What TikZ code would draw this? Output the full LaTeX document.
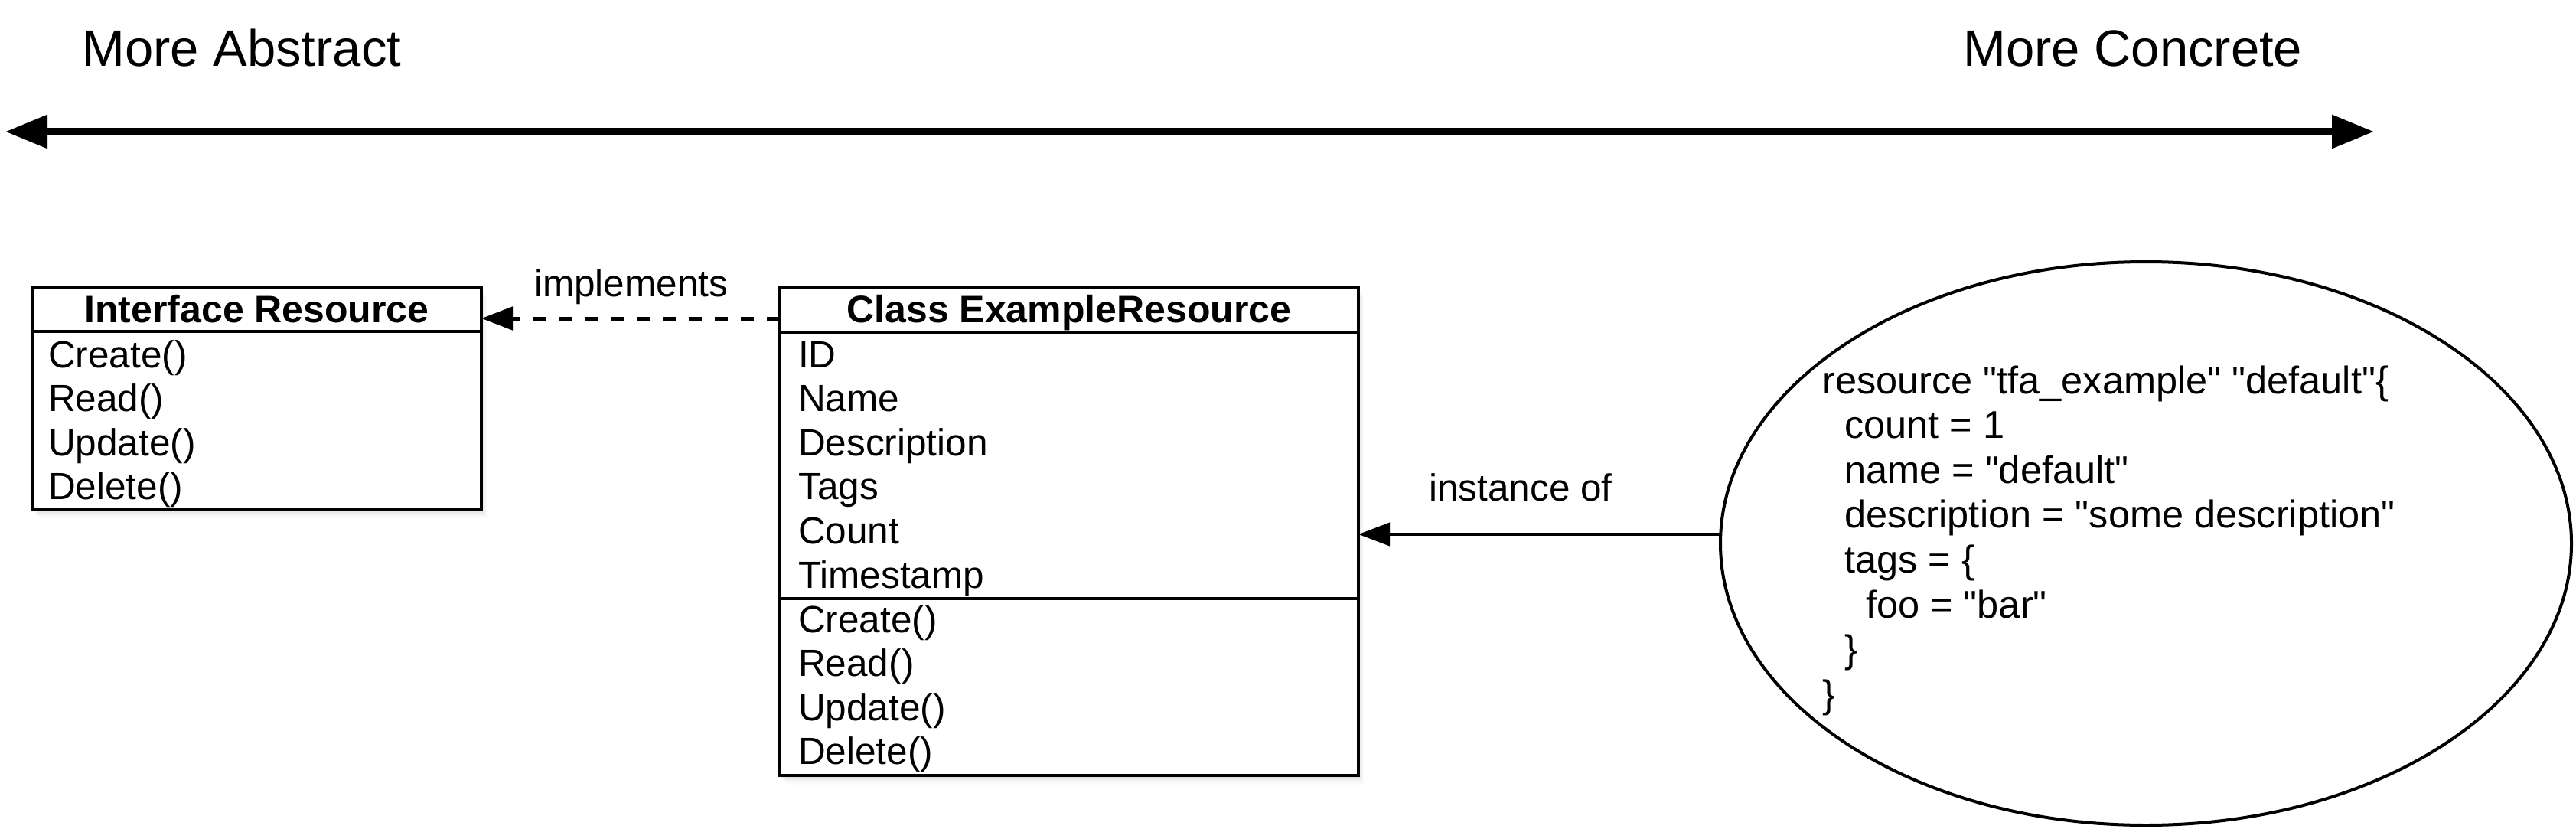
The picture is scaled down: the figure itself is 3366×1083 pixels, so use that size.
\documentclass[tikz,border=0pt]{standalone}
\usepackage{fontspec}
\setmainfont{Liberation Sans}
\newfontfamily\lsans{Liberation Sans}
\usetikzlibrary{arrows.meta,shapes.geometric,shadows}
\begin{document}
\begin{tikzpicture}[x=1pt,y=-1pt,
  umlbox/.style={draw,line width=4pt,fill=white,rectangle,anchor=north west,inner sep=0pt,outer sep=0pt,
    drop shadow={shadow xshift=2pt,shadow yshift=-3pt,opacity=0.14},
    drop shadow={shadow xshift=4pt,shadow yshift=-6pt,opacity=0.09},
    drop shadow={shadow xshift=6pt,shadow yshift=-9pt,opacity=0.05},
    drop shadow={shadow xshift=7pt,shadow yshift=-12pt,opacity=0.03}},
  item/.style={anchor=base west,inner sep=0pt,font=\lsans\fontsize{49.5}{50}\selectfont},
  code/.style={anchor=base west,inner sep=0pt,font=\lsans\fontsize{50.5}{52}\selectfont},
  head/.style={anchor=base,inner sep=0pt,font=\lsans\fontsize{50}{52}\selectfont\bfseries},
  title/.style={anchor=base west,inner sep=0pt,font=\lsans\fontsize{67}{70}\selectfont},
  sepline/.style={line width=4pt},
  bigtip/.style={line width=9pt,{Triangle[length=55pt,width=42pt]}-{Triangle[length=55pt,width=42pt]}},
  reltip/.style={-{Triangle[length=41pt,width=30pt]}},
]
\useasboundingbox (0,0) rectangle (3366,1083);

% axis
\node[title] (abs) at (107,87) {More Abstract};
\node[title] (con) at (2565,87) {More Concrete};
\coordinate (la) at (7,172);
\coordinate (ra) at (3102,172);
\draw[bigtip] (la) -- (ra);

% interface box
\node[umlbox,minimum width=587pt,minimum height=290pt] (ifc) at (42,375) {};
\draw[sepline] ([yshift=-58pt]ifc.north west) -- ([yshift=-58pt]ifc.north east);
\node[head] (ifct) at (335.5,421) {Interface Resource};
\node[item] (i1) at (63,480) {Create()};
\node[item] (i2) at (63,537.6) {Read()};
\node[item] (i3) at (63,595.2) {Update()};
\node[item] (i4) at (63,652.8) {Delete()};

% class box
\node[umlbox,minimum width=756pt,minimum height=638pt] (cls) at (1019,375) {};
\draw[sepline] ([yshift=-59pt]cls.north west) -- ([yshift=-59pt]cls.north east);
\draw[sepline] ([yshift=-407pt]cls.north west) -- ([yshift=-407pt]cls.north east);
\node[head] (clst) at (1397,421) {Class ExampleResource};
\node[item] (c1) at (1043,480) {ID};
\node[item] (c2) at (1043,537.6) {Name};
\node[item] (c3) at (1043,595.2) {Description};
\node[item] (c4) at (1043,652.8) {Tags};
\node[item] (c5) at (1043,710.4) {Count};
\node[item] (c6) at (1043,768) {Timestamp};
\node[item] (c7) at (1043,826) {Create()};
\node[item] (c8) at (1043,883.6) {Read()};
\node[item] (c9) at (1043,941.2) {Update()};
\node[item] (c10) at (1043,998.8) {Delete()};

% implements
\coordinate (dstart) at ([yshift=-41pt]cls.north west);
\draw[line width=5pt,dash pattern=on 17pt off 17pt,reltip] (dstart) -- (dstart -| ifc.east);
\node[item] (impl) at (698,387) {implements};

% ellipse
\node[ellipse,draw,line width=4pt,fill=white,minimum width=1112pt,minimum height=736pt,inner sep=0pt,outer sep=0pt] (ell) at (2804,710) {};
\node[code] (e1) at (2381,514) {resource "tfa\_example" "default"\{};
\node[code] (e2) at (2410,572.6) {count = 1};
\node[code] (e3) at (2410,631.2) {name = "default"};
\node[code] (e4) at (2410,689.8) {description = "some description"};
\node[code] (e5) at (2410,748.4) {tags = \{};
\node[code] (e6) at (2438,807) {foo = "bar"};
\node[code] (e7) at (2410,865.6) {\}};
\node[code] (e8) at (2381,924.2) {\}};

% instance of
\coordinate (io) at ([yshift=12pt]ell.west);
\draw[line width=4pt,reltip] (io) -- (io -| cls.east);
\node[item] (inst) at (1867,654) {instance of};
\end{tikzpicture}
\end{document}
